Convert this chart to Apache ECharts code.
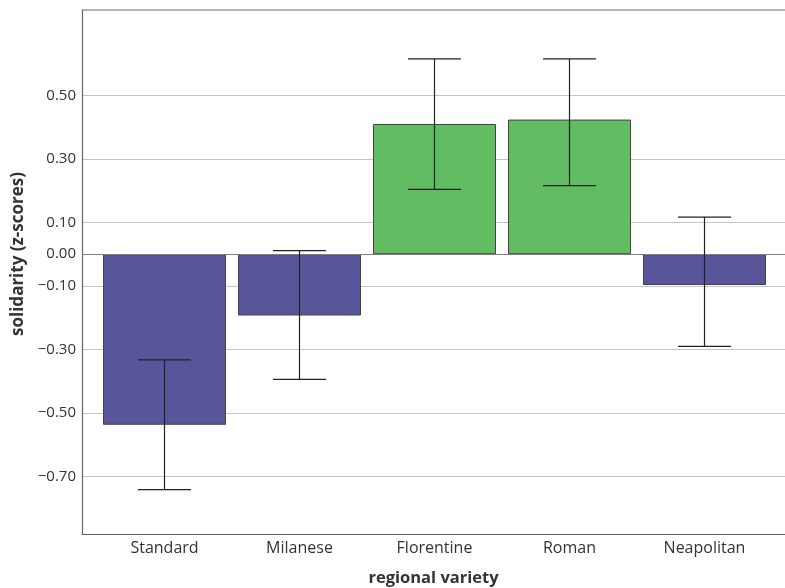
<!DOCTYPE html>
<html>
<head>
<meta charset="utf-8">
<script src="https://cdn.jsdelivr.net/npm/echarts@6/dist/echarts.min.js"></script>
<style>
  html, body { margin: 0; padding: 0; background: #ffffff; }
  #chart { width: 785px; height: 588px; }
</style>
</head>
<body>
<div id="chart"></div>
<script>
// Mean solidarity z-scores per regional variety, with error-bar bounds
const categories = ['Standard', 'Milanese', 'Florentine', 'Roman', 'Neapolitan'];
const meanScores = [-0.537, -0.193, 0.410, 0.424, -0.097];
const errLower   = [-0.741, -0.394, 0.204, 0.216, -0.290];
const errUpper   = [-0.333, 0.011, 0.615, 0.615, 0.117];

// Labelled y values (each one also gets a gridline)
const yTicks = [0.5, 0.3, 0.1, 0, -0.1, -0.3, -0.5, -0.7];
const yMin = -0.881;
const yMax = 0.769;

const FONT = '"Open Sans", "DejaVu Sans", sans-serif';
const BLUE = '#58559a';
const GREEN = '#62bd62';

function fmtTick(v) {
  const s = Math.abs(v).toFixed(2);
  return (v < -1e-9 ? '\u2212' : '') + s;
}

const barData = meanScores.map(v => ({
  value: v,
  itemStyle: { color: v >= 0 ? GREEN : BLUE }
}));

const errData = categories.map((c, i) => [i, errLower[i], errUpper[i]]);

const chart = echarts.init(document.getElementById('chart'), null, { renderer: 'canvas' });

chart.setOption({
  animation: false,
  backgroundColor: '#ffffff',
  grid: [
    // frame, gridlines and tick labels
    { left: 82, right: 0, top: 10, bottom: 54, containLabel: false, outerBoundsMode: 'none' },
    // bars and category labels
    { left: 97, right: 13, top: 10, bottom: 54, containLabel: false, outerBoundsMode: 'none' }
  ],
  xAxis: [
    {
      gridIndex: 0, type: 'value', min: 0, max: 1, position: 'bottom',
      axisLine: { show: true, onZero: false, lineStyle: { color: '#666666', width: 1.2 } },
      axisTick: { show: false }, axisLabel: { show: false }, splitLine: { show: false },
      name: 'regional variety', nameLocation: 'middle', nameGap: 36,
      nameTextStyle: { fontFamily: FONT, fontWeight: 'bold', fontSize: 16.5, color: '#333333' }
    },
    {
      gridIndex: 0, type: 'value', min: 0, max: 1, position: 'top',
      axisLine: { show: true, onZero: false, lineStyle: { color: '#9a9a9a', width: 1.5 } },
      axisTick: { show: false }, axisLabel: { show: false }, splitLine: { show: false }
    },
    {
      gridIndex: 1, type: 'category', data: categories,
      axisLine: { show: false }, axisTick: { show: false }, splitLine: { show: false },
      axisLabel: { fontFamily: FONT, fontSize: 16, color: '#333333', margin: 6 }
    }
  ],
  yAxis: [
    {
      gridIndex: 0, type: 'value', min: yMin, max: yMax,
      axisLine: { show: true, onZero: false, lineStyle: { color: '#666666', width: 1.2 } },
      axisTick: { show: false, customValues: yTicks },
      axisLabel: {
        customValues: yTicks, formatter: fmtTick, margin: 6,
        fontFamily: FONT, fontSize: 15, color: '#333333'
      },
      splitLine: { show: true, lineStyle: { color: '#c4c4c4', width: 1 } }
    },
    {
      gridIndex: 1, type: 'value', min: yMin, max: yMax, show: false,
      splitLine: { show: false }
    }
  ],
  graphic: [
    {
      type: 'text',
      x: 18, y: 254, rotation: Math.PI / 2,
      style: {
        text: 'solidarity (z-scores)',
        fontFamily: FONT, fontWeight: 'bold', fontSize: 17, fill: '#333333',
        align: 'center', verticalAlign: 'middle'
      }
    }
  ],
  series: [
    {
      // baseline at zero across the full plot width
      type: 'line', xAxisIndex: 0, yAxisIndex: 0, data: [],
      silent: true,
      markLine: {
        silent: true, symbol: 'none', label: { show: false },
        lineStyle: { color: '#808080', width: 1, type: 'solid' },
        data: [{ yAxis: 0 }]
      }
    },
    {
      type: 'bar', xAxisIndex: 2, yAxisIndex: 1,
      data: barData, barWidth: 123, z: 3,
      itemStyle: { borderColor: '#444444', borderWidth: 1 }
    },
    {
      type: 'custom', xAxisIndex: 2, yAxisIndex: 1,
      data: errData,
      encode: { x: 0, y: [1, 2] },
      z: 10,
      renderItem: function (params, api) {
        const idx = api.value(0);
        const lo = api.coord([idx, api.value(1)]);
        const hi = api.coord([idx, api.value(2)]);
        const half = 26.5;
        const style = { stroke: '#222222', lineWidth: 1.2 };
        return {
          type: 'group',
          children: [
            { type: 'line', shape: { x1: lo[0], y1: lo[1], x2: hi[0], y2: hi[1] }, style: style },
            { type: 'line', shape: { x1: lo[0] - half, y1: lo[1], x2: lo[0] + half, y2: lo[1] }, style: style },
            { type: 'line', shape: { x1: hi[0] - half, y1: hi[1], x2: hi[0] + half, y2: hi[1] }, style: style }
          ]
        };
      }
    }
  ]
});
</script>
</body>
</html>
